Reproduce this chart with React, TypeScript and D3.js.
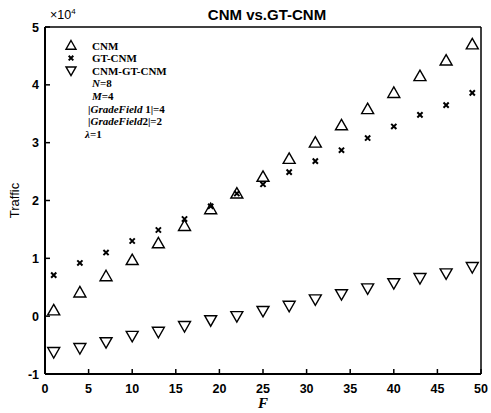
import React from "react";
import * as d3 from "d3";

// F values shared by all three series
const fValues = [1, 4, 7, 10, 13, 16, 19, 22, 25, 28, 31, 34, 37, 40, 43, 46, 49];

// traffic, in units of 10^4
const cnm = [0.1, 0.41, 0.69, 0.97, 1.26, 1.56, 1.85, 2.12, 2.41, 2.72, 3.0, 3.3, 3.58, 3.86, 4.15, 4.42, 4.7];
const gtCnm = [0.71, 0.92, 1.1, 1.3, 1.49, 1.68, 1.9, 2.12, 2.28, 2.49, 2.68, 2.87, 3.08, 3.28, 3.48, 3.65, 3.86];
const cnmGtCnm = [-0.62, -0.55, -0.45, -0.34, -0.27, -0.17, -0.07, 0.0, 0.09, 0.18, 0.29, 0.38, 0.48, 0.57, 0.66, 0.74, 0.85];

const xTicks = [0, 5, 10, 15, 20, 25, 30, 35, 40, 45, 50];
const yTicks = [-1, 0, 1, 2, 3, 4, 5];

const W = 491;
const H = 413;
const margin = { top: 27, right: 10, bottom: 39, left: 45 };

const sans = "'Liberation Sans', Arial, sans-serif";
const serif = "'Liberation Serif', 'Times New Roman', serif";

function Up({ x, y, s = 6 }: { x: number; y: number; s?: number }) {
  return (
    <path
      d={`M${x},${y - s} L${x + s},${y + s * 0.75} L${x - s},${y + s * 0.75} Z`}
      fill="none"
      stroke="#000"
      strokeWidth={1.4}
    />
  );
}

function Down({ x, y, s = 6 }: { x: number; y: number; s?: number }) {
  return (
    <path
      d={`M${x - s},${y - s * 0.75} L${x + s},${y - s * 0.75} L${x},${y + s} Z`}
      fill="none"
      stroke="#000"
      strokeWidth={1.4}
    />
  );
}

function Cross({ x, y, s = 2.6 }: { x: number; y: number; s?: number }) {
  return (
    <path
      d={`M${x - s},${y - s} L${x + s},${y + s} M${x + s},${y - s} L${x - s},${y + s}`}
      stroke="#000"
      strokeWidth={2}
    />
  );
}

export default function App() {
  const x = d3.scaleLinear().domain([0, 50]).range([margin.left, W - margin.right]);
  const y = d3.scaleLinear().domain([-1, 5]).range([H - margin.bottom, margin.top]);

  const [x0, x1] = x.range();
  const [y0, y1] = y.range();

  const legendX = 71;
  const textX = 92;
  const row = 12.6;
  const legendTop = 45.5;

  return (
    <svg
      width={W}
      height={H}
      style={{ position: "absolute", left: 0, top: 0, background: "#fff" }}
    >
      <rect x={0} y={0} width={W} height={H} fill="#fff" />

      {/* title */}
      <text x={267} y={20} textAnchor="middle" fontFamily={sans} fontSize={15} fontWeight="bold">
        CNM vs.GT-CNM
      </text>

      {/* exponent */}
      <text x={50} y={19} fontFamily={sans} fontSize={12.5}>
        ×10
        <tspan dy={-5} fontSize={8}>4</tspan>
      </text>

      {/* frame */}
      <line x1={x0} y1={y1} x2={x1} y2={y1} stroke="#000" strokeWidth={1.5} />
      <line x1={x1} y1={y1} x2={x1} y2={y0} stroke="#000" strokeWidth={1.5} />
      <line x1={x0} y1={y0} x2={x1} y2={y0} stroke="#000" strokeWidth={2} />
      <line x1={x0} y1={y1} x2={x0} y2={y0} stroke="#000" strokeWidth={2} />

      {/* x ticks */}
      {xTicks.map(t => (
        <g key={`x${t}`}>
          <line x1={x(t)} y1={y0} x2={x(t)} y2={y0 - 5} stroke="#000" strokeWidth={1.5} />
          <text x={x(t)} y={y0 + 19} textAnchor="middle" fontFamily={sans} fontSize={12.5} fontWeight="bold">
            {t}
          </text>
        </g>
      ))}

      {/* y ticks */}
      {yTicks.map(t => (
        <g key={`y${t}`}>
          <line x1={x0} y1={y(t)} x2={x0 + 5} y2={y(t)} stroke="#000" strokeWidth={1.5} />
          <text x={x0 - 6} y={y(t) + 4.5} textAnchor="end" fontFamily={sans} fontSize={12.5} fontWeight="bold">
            {t}
          </text>
        </g>
      ))}

      {/* axis labels */}
      <text
        transform={`translate(19,${(y0 + y1) / 2}) rotate(-90)`}
        textAnchor="middle"
        fontFamily={sans}
        fontSize={13}
      >
        Traffic
      </text>
      <text x={263} y={408} textAnchor="middle" fontFamily={serif} fontSize={15} fontWeight="bold" fontStyle="italic">
        F
      </text>

      {/* series */}
      {fValues.map((f, i) => (
        <Up key={`a${f}`} x={x(f)} y={y(cnm[i])} />
      ))}
      {fValues.map((f, i) => (
        <Cross key={`b${f}`} x={x(f)} y={y(gtCnm[i])} />
      ))}
      {fValues.map((f, i) => (
        <Down key={`c${f}`} x={x(f)} y={y(cnmGtCnm[i])} />
      ))}

      {/* legend */}
      <Up x={legendX} y={legendTop} s={5} />
      <Cross x={legendX} y={legendTop + row} s={2.3} />
      <Down x={legendX} y={legendTop + 2 * row} s={5} />
      <g fontFamily={serif} fontSize={11} fontWeight="bold">
        <text x={textX} y={legendTop + 4}>CNM</text>
        <text x={textX} y={legendTop + 4 + row}>GT-CNM</text>
        <text x={textX} y={legendTop + 4 + 2 * row}>CNM-GT-CNM</text>
        <text x={textX} y={legendTop + 4 + 3 * row}>
          <tspan fontStyle="italic">N</tspan>=8
        </text>
        <text x={textX} y={legendTop + 4 + 4 * row}>
          <tspan fontStyle="italic">M</tspan>=4
        </text>
        <text x={88} y={legendTop + 4 + 5 * row}>
          |<tspan fontStyle="italic">GradeField</tspan> 1|=4
        </text>
        <text x={88} y={legendTop + 4 + 6 * row}>
          |<tspan fontStyle="italic">GradeField</tspan>2|=2
        </text>
        <text x={85} y={legendTop + 4 + 7 * row}>
          <tspan fontStyle="italic">λ</tspan>=1
        </text>
      </g>
    </svg>
  );
}
